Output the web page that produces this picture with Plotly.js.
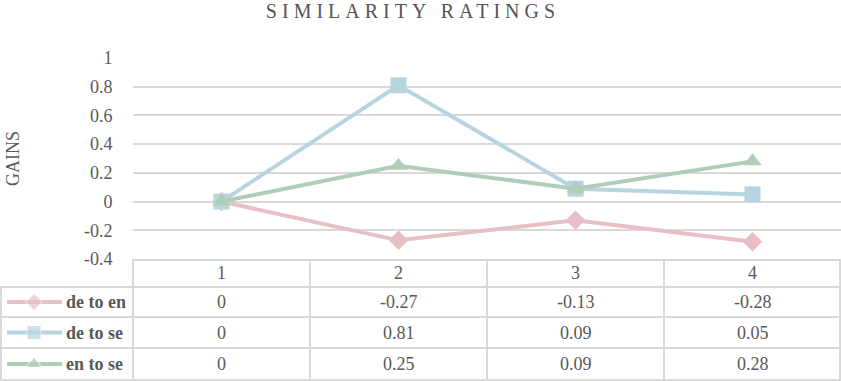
<!DOCTYPE html>
<html>
<head>
<meta charset="utf-8">
<script src="https://cdn.plot.ly/plotly-3.0.1.min.js"></script>
<style>
html,body{margin:0;padding:0;background:#fff;}
.gtitle{letter-spacing:5px;}
.main-svg text{font-family:"Liberation Serif" !important;}
</style>
</head>
<body>
<div id="chart" style="width:841px;height:381px;"></div>
<script>
const categories = [1, 2, 3, 4];
const categoryLabels = ["1", "2", "3", "4"];
const seriesNames = ["de to en", "de to se", "en to se"];
const deToEn = [0, -0.27, -0.13, -0.28];
const deToSe = [0, 0.81, 0.09, 0.05];
const enToSe = [0, 0.25, 0.09, 0.28];
const yTickVals = [1, 0.8, 0.6, 0.4, 0.2, 0, -0.2, -0.4];
const yTickText = ["1", "0.8", "0.6", "0.4", "0.2", "0", "-0.2", "-0.4"];

const W = 841, H = 381;
const plotL = 133, plotR = 841, plotT = 58, plotB = 259;
const seriesData = [deToEn, deToSe, enToSe];
const colors = ["#E8BFC4", "#B8D4DE", "#B0CDB8"];
const symbols = ["diamond", "square", "triangle-up"];
const msizes = [15, 16, 16];
const TXT = "#595959";
const GRID = "#D9D9D9";
const FAM = "Liberation Serif";
const FS = 18;

const traces = [];
seriesData.forEach((d, i) => {
  traces.push({
    x: categories, y: d, name: seriesNames[i], type: "scatter", mode: "lines+markers",
    line: {color: colors[i], width: 4},
    marker: {symbol: symbols[i], size: msizes[i], color: colors[i]},
    xaxis: "x", yaxis: "y", showlegend: false, hoverinfo: "x+y+name"
  });
});

const headerY = 273;
const rowY = [302, 332.5, 364];
const rowLines = [287, 317, 348, 380];
const toPy = px => 1 - px / H;
const toPx = px => px / W;

// legend keys in the table row headers (free axes in pixel space)
seriesData.forEach((d, i) => {
  traces.push({
    x: [7, 34, 62], y: [rowY[i], rowY[i], rowY[i]], type: "scatter", mode: "lines+markers",
    line: {color: colors[i], width: 4},
    marker: {symbol: symbols[i], size: [0, msizes[i] - 2, 0], color: colors[i]},
    xaxis: "x2", yaxis: "y2", showlegend: false, hoverinfo: "skip", cliponaxis: false
  });
});

const annotations = [];
categories.forEach((c, j) => {
  annotations.push({x: c, xref: "x", y: toPy(headerY), yref: "paper", text: categoryLabels[j],
    showarrow: false, font: {family: FAM, size: FS, color: TXT}, xanchor: "center", yanchor: "middle"});
});
seriesData.forEach((d, i) => {
  annotations.push({x: toPx(64), xref: "paper", y: toPy(rowY[i]), yref: "paper", text: "<b>" + seriesNames[i] + "</b>",
    showarrow: false, font: {family: FAM, size: FS, color: TXT}, xanchor: "left", yanchor: "middle"});
  d.forEach((v, j) => {
    annotations.push({x: categories[j], xref: "x", y: toPy(rowY[i]), yref: "paper", text: String(v),
      showarrow: false, font: {family: FAM, size: FS, color: TXT}, xanchor: "center", yanchor: "middle"});
  });
});
annotations.push({x: toPx(13), xref: "paper", y: toPy(159), yref: "paper", text: "GAINS", textangle: -90,
  showarrow: false, font: {family: FAM, size: FS, color: TXT}, xanchor: "center", yanchor: "middle"});

const lineStyle = {color: GRID, width: 2};
const shapes = [];
shapes.push({type: "line", xref: "paper", yref: "paper", x0: toPx(plotL), x1: 1, y0: toPy(plotB + 1), y1: toPy(plotB + 1), line: lineStyle});
rowLines.forEach(py => {
  shapes.push({type: "line", xref: "paper", yref: "paper", x0: 0, x1: 1, y0: toPy(py), y1: toPy(py), line: lineStyle});
});
shapes.push({type: "line", xref: "paper", yref: "paper", x0: toPx(1), x1: toPx(1), y0: toPy(rowLines[0]), y1: toPy(380), line: lineStyle});
shapes.push({type: "line", xref: "paper", yref: "paper", x0: toPx(plotL), x1: toPx(plotL), y0: toPy(plotB), y1: toPy(380), line: lineStyle});
categories.slice(0, -1).forEach(c => {
  shapes.push({type: "line", xref: "x", yref: "paper", x0: c + 0.5, x1: c + 0.5, y0: toPy(plotB), y1: toPy(380), line: lineStyle});
});
shapes.push({type: "line", xref: "paper", yref: "paper", x0: toPx(840), x1: toPx(840), y0: toPy(plotB), y1: toPy(380), line: lineStyle});

const layout = {
  width: W, height: H,
  margin: {l: 0, r: 0, t: 0, b: 0},
  paper_bgcolor: "#fff", plot_bgcolor: "rgba(0,0,0,0)",
  showlegend: false,
  font: {family: FAM, color: TXT},
  title: {text: "SIMILARITY RATINGS", x: 413 / W, xanchor: "center", y: 1 - 11 / H, yanchor: "middle", yref: "container",
    font: {family: FAM, size: 20, color: "#555555"}},
  xaxis: {domain: [plotL / W, plotR / W], range: [0.5, 4.5], showticklabels: false, showgrid: false,
    zeroline: false, showline: false, ticks: "", fixedrange: true},
  yaxis: {domain: [1 - plotB / H, 1 - plotT / H], range: [-0.4, 1], tickvals: yTickVals, ticktext: yTickText,
    showgrid: true, gridcolor: GRID, gridwidth: 2, zeroline: false, showline: false,
    ticks: "outside", ticklen: 16, tickcolor: "rgba(0,0,0,0)",
    tickfont: {family: FAM, size: FS, color: TXT}, fixedrange: true},
  xaxis2: {domain: [0, 1], range: [0, W], visible: false, anchor: "y2", fixedrange: true},
  yaxis2: {domain: [0, 1], range: [H, 0], visible: false, anchor: "x2", fixedrange: true},
  annotations: annotations,
  shapes: shapes
};

Plotly.newPlot("chart", traces, layout, {displayModeBar: false});
</script>
</body>
</html>
